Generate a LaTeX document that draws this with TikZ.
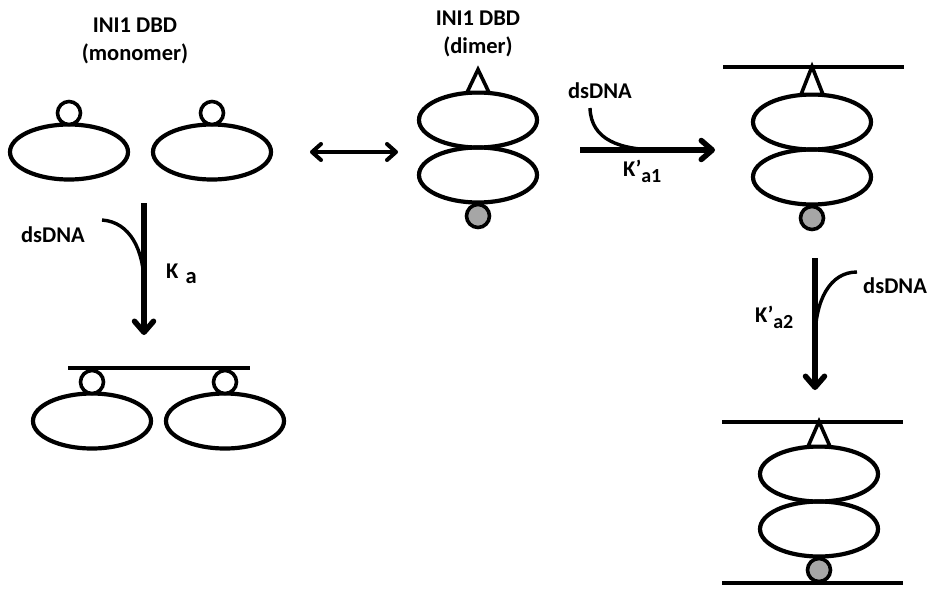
\documentclass[tikz,border=0pt]{standalone}
\usepackage{fontspec}
\setmainfont{Carlito}
\usetikzlibrary{shapes.geometric,arrows.meta,calc}
\definecolor{knobgrey}{HTML}{A6A6A6}
\begin{document}
\begin{tikzpicture}[x=1pt,y=-1pt,
  blob/.style={ellipse,draw,line width=4.2pt,minimum width=118pt,minimum height=55pt,inner sep=0pt,outer sep=0pt},
  knob/.style={circle,draw,line width=3.6pt,fill=white,minimum size=23pt,inner sep=0pt,outer sep=0pt},
  greyknob/.style={knob,fill=knobgrey},
  tip/.style={draw,line width=3.6pt,fill=white,line join=miter},
  dna/.style={line width=4pt},
  strand/.style={line width=3.4pt},
  barb/.tip={Straight Barb[length=11pt,width=19pt,round]},
  react/.style={line width=5.5pt,-barb},
  swap/.style={line width=4pt,{Straight Barb[length=9pt,width=16pt,round]}-{Straight Barb[length=9pt,width=16pt,round]}},
  txt/.style={font=\bfseries\fontsize{22.5}{28}\selectfont,inner sep=0pt,align=center},
]
\useasboundingbox (0,0) rectangle (928,590);

% --- free monomers
\node[txt] (tmono) at (135,41) {INI1 DBD\\(monomer)};
\node[blob] (m1) at (69,152) {};
\node[blob] (m2) at (212,152) {};
\node[knob,anchor=south] (mk1) at (m1.north) {};
\node[knob,anchor=south] (mk2) at (m2.north) {};

% --- free dimer
\node[txt] (tdim) at (478,34) {INI1 DBD\\(dimer)};
\node[blob] (d1) at (478,120) {};
\node[blob,anchor=north] (d2) at (d1.south) {};
\node[greyknob,anchor=north] (dk) at ([yshift=-2pt]d2.south) {};
\draw[tip] ($(d1.north)+(-11,0)$) -- ($(d1.north)+(0,-23)$) -- ($(d1.north)+(11,0)$) -- cycle;

% monomer <-> dimer equilibrium
\coordinate (eqa) at (310,152);
\coordinate (eqb) at (398,152);
\draw[swap] (eqa) -- (eqb);

% --- dimer bound to one duplex
\node[blob] (r1) at (812,122) {};
\node[blob,anchor=north] (r2) at (r1.south) {};
\node[greyknob,anchor=north] (rk) at ([yshift=-2pt]r2.south) {};
\coordinate (rapex) at ($(r1.north)+(0,-28)$);
\draw[tip] ($(r1.north)+(-11,0)$) -- (rapex) -- ($(r1.north)+(11,0)$) -- cycle;
\draw[dna] ($(rapex)+(-89,0)$) -- ($(rapex)+(92,0)$);

% first binding step of the dimer
\coordinate (a1s) at (580,150);
\coordinate (a1e) at (715,150);
\coordinate (c1s) at (590,108);
\draw[react] (a1s) -- (a1e);
\draw[strand] (c1s) .. controls (591,140) and (620,150) .. (660,150);
\node[txt] (dna2) at (600,91) {dsDNA};
\node[txt,anchor=base west] (k1) at (623,176) {K’\raisebox{-6pt}{\fontsize{20}{24}\selectfont a1}};

% --- dimer bound to two duplexes
\node[blob] (b1) at (819,474) {};
\node[blob,anchor=north] (b2) at (b1.south) {};
\node[greyknob,anchor=north] (bk) at ([yshift=-2pt]b2.south) {};
\coordinate (bapex) at ($(b1.north)+(0,-25)$);
\draw[tip] ($(b1.north)+(-11,0)$) -- (bapex) -- ($(b1.north)+(11,0)$) -- cycle;
\draw[dna] ($(bapex)+(-97,0)$) -- ($(bapex)+(84,0)$);
\coordinate (bbot) at ($(bk.south)+(0,1.5)$);
\draw[dna] (bbot -| 722,0) -- (bbot -| 903,0);

% second binding step of the dimer
\coordinate (a2s) at (815,258);
\coordinate (a2e) at (815,390);
\coordinate (c2s) at (857,272);
\draw[react] (a2s) -- (a2e);
\draw[strand] (c2s) .. controls (830,272) and (815,300) .. (815,340);
\node[txt,anchor=west] (dna3) at (863,286) {dsDNA};
\node[txt,anchor=base west] (k2) at (755,322) {K’\raisebox{-6pt}{\fontsize{20}{24}\selectfont a2}};

% --- monomers bound to one duplex
\node[blob] (e1) at (92,421) {};
\node[blob] (e2) at (225,421) {};
\node[knob,anchor=south] (ek1) at (e1.north) {};
\node[knob,anchor=south] (ek2) at (e2.north) {};
\coordinate (etop) at ($(ek1.north)+(0,-3)$);
\draw[dna] (etop -| 68,0) -- (etop -| 250,0);

% monomer binding step
\coordinate (kas) at (144,203);
\coordinate (kae) at (144,335);
\coordinate (cas) at (102,220);
\draw[react] (kas) -- (kae);
\draw[strand] (cas) .. controls (130,222) and (144,250) .. (144,285);
\node[txt] (dna1) at (53,235) {dsDNA};
\node[txt,anchor=base west] (ka) at (166,278) {K\hspace{7pt}\raisebox{-5pt}{a}};

\end{tikzpicture}
\end{document}
